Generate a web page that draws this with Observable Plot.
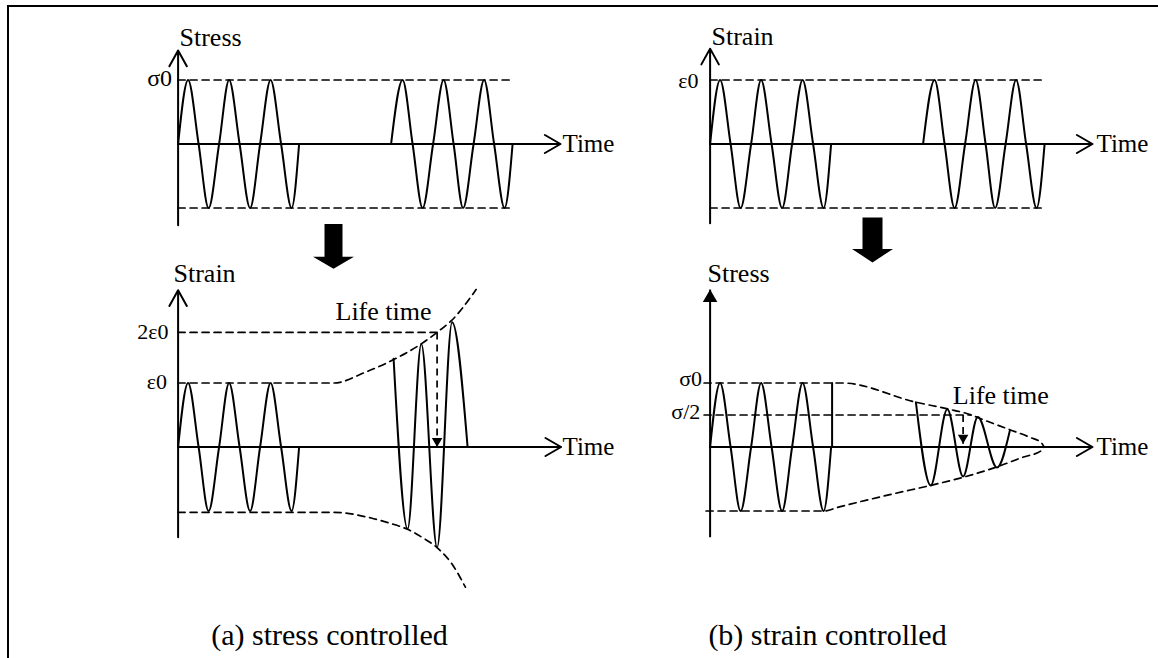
<!DOCTYPE html>
<html><head><meta charset="utf-8">
<script src="https://cdn.jsdelivr.net/npm/d3@7"></script>
<script src="https://cdn.jsdelivr.net/npm/@observablehq/plot@0.6"></script>
<style>
html,body{margin:0;padding:0;background:#fff;overflow:hidden}
#wrap{position:relative;width:1158px;height:658px}
#frame{position:absolute;left:7px;top:5px;width:1300px;height:800px;border-left:2px solid #000;border-top:2px solid #000;pointer-events:none}
</style></head><body><div id="wrap"><div id="frame"></div><div id="chart"></div></div>
<script>
// ---------- data (time in arbitrary units, amplitude in units of σ0 / ε0) ----------
const columns = ["a", "b"];            // (a) stress controlled, (b) strain controlled
const rowKeys = ["load", "resp"];      // applied signal, response

// steady cyclic signal: first block (all panels) and second block (top panels)
const steadyT = [0, 10, 20.5, 30.5, 41, 51, 61.5, 72, 82, 92.5, 103, 113.5, 121];
const steadyA = [0, 1, 0, -1, 0, 1, 0, -1, 0, 1, 0, -1, 0];
const laterT  = [213, 224.5, 234.5, 244.5, 255, 265.5, 275.5, 285, 295.5, 306, 316, 326.5, 334.5];
const laterA  = [0, 1, 0, -1, 0, 1, 0, -1, 0, 1, 0, -1, 0];
const loadLimitT = [0, 334.5];
const loadLimitA = [1, -1];

// (a) response: growing strain
const growthT = [215.5, 229.5, 243.2, 259, 274, 289.5];
const growthA = [1.38, -1.28, 1.61, -1.57, 1.95, 0];
const upperEnvAT = [0, 120, 156, 186, 216, 243, 263, 273, 298];
const upperEnvAA = [1, 1, 1, 1.16, 1.37, 1.61, 1.84, 1.97, 2.46];
const lowerEnvAT = [0, 120, 156, 193, 211.5, 230, 244.8, 259.5, 274.4, 287.3];
const lowerEnvAA = [-1.02, -1.02, -1.02, -1.11, -1.19, -1.29, -1.42, -1.58, -1.84, -2.19];
const lifeA = {level: 1.79, t: 259, tip: 0};

// (b) response: decaying stress
const decayT = [205.8, 220.6, 237.2, 253, 267.7, 286.9, 299.8];
const decayA = [0.70, -0.60, 0.59, -0.46, 0.47, -0.32, 0.26];
const upperEnvBT = [-6, 132, 205.8, 239, 257.4, 275.9, 299.8, 320, 331, 334];
const upperEnvBA = [1, 1, 0.70, 0.59, 0.52, 0.41, 0.27, 0.15, 0.07, 0];
const lowerEnvBT = [-4, 113.7, 128.4, 183.7, 220.6, 253.7, 287, 312.7, 331, 334];
const lowerEnvBA = [-1, -1, -0.94, -0.73, -0.6, -0.47, -0.31, -0.16, -0.06, 0];
const blockEndB = {t: 122, a0: 0, a1: 1};
const lifeB = {level: 0.5, levelEnd: 261, t: 253, tip: 0.05};

// axes per panel
const axisCol  = ["a", "b", "a", "b"];
const axisRow  = ["load", "load", "resp", "resp"];
const axisLow  = [-1.27, -1.24, -1.41, -1.41];
const axisHigh = [1.46, 1.49, 2.45, 2.46];
const axisEnd  = [382.4, 382.4, 383, 382.4];
const axisFilled = [false, false, false, true];
const axisName  = ["Stress", "Strain", "Strain", "Stress"];
const axisNameT = [1.4, 1.4, -4.6, -2.6];
const axisNameA = [1.53, 1.54, 2.575, 2.575];
const timeLabelT = [384.4, 386.4, 384.4, 386.4];

// level labels
const levelText = ["σ0", "ε0", "2ε0", "ε0", "σ0", "σ/2"];
const levelCol  = ["a", "b", "a", "a", "b", "b"];
const levelRow  = ["load", "load", "resp", "resp", "resp", "resp"];
const levelT    = [-6, -11.6, -9.6, -11, -8, -9.8];
const levelA    = [1.03, 0.99, 1.79, 1.01, 1.07, 0.54];
const levelSize = [24, 22, 22, 22, 22, 22];

// "Life time" labels
const lifeLabelCol = ["a", "b"];
const lifeLabelT = [157.4, 242.7];
const lifeLabelA = [1.99, 0.675];

// big transition arrows (between rows)
const bigArrowCol  = ["a", "b"];
const bigArrowT    = [155.4, 162.4];
const bigArrowTop  = [-1.25, -1.15];
const bigArrowBase = [-1.76, -1.64];
const bigArrowTip  = [-1.95, -1.85];
const bigArrowShaft = [9, 10];
const bigArrowHead  = [20.5, 20.5];

// captions
const captions = ["(a) stress controlled", "(b) strain controlled"];
const captionT = [151.4, 117.4];
const captionA = -3.1;

// ---------- build tables ----------
const FONT = "Liberation Serif, 'Times New Roman', serif";
function series(id, col, row, T, A) { return T.map((t, i) => ({id, col, row, t, a: A[i]})); }

const waves = [
  ...series("w1", "a", "load", steadyT, steadyA),
  ...series("w2", "a", "load", laterT, laterA),
  ...series("w3", "b", "load", steadyT, steadyA),
  ...series("w4", "b", "load", laterT, laterA),
  ...series("w5", "a", "resp", steadyT, steadyA),
  ...series("w6", "a", "resp", growthT, growthA),
  ...series("w7", "b", "resp", steadyT, steadyA),
  ...series("w8", "b", "resp", decayT, decayA)
];
const straight = [
  ...series("v1", "b", "resp", [blockEndB.t, blockEndB.t], [blockEndB.a0, blockEndB.a1])
];
const dashed = [];
columns.forEach((c) => loadLimitA.forEach((lv, k) =>
  dashed.push(...series(`l${c}${k}`, c, "load", loadLimitT, [lv, lv]))));
dashed.push(...series("ua", "a", "resp", upperEnvAT, upperEnvAA));
dashed.push(...series("la", "a", "resp", lowerEnvAT, lowerEnvAA));
dashed.push(...series("ub", "b", "resp", upperEnvBT, upperEnvBA));
dashed.push(...series("lb", "b", "resp", lowerEnvBT, lowerEnvBA));
dashed.push(...series("ha", "a", "resp", [0, lifeA.t], [lifeA.level, lifeA.level]));
dashed.push(...series("hb", "b", "resp", [-6, lifeB.levelEnd], [lifeB.level, lifeB.level]));

const lifeLinks = [
  {col: "a", row: "resp", t: lifeA.t, a1: lifeA.level, a2: lifeA.tip},
  {col: "b", row: "resp", t: lifeB.t, a1: lifeB.level, a2: lifeB.tip}
];

const axes = axisCol.map((c, i) => ({col: c, row: axisRow[i], low: axisLow[i], high: axisHigh[i], end: axisEnd[i], filled: axisFilled[i],
  name: axisName[i], nameT: axisNameT[i], nameA: axisNameA[i], timeT: timeLabelT[i]}));

const levels = levelText.map((s, i) => ({text: s, col: levelCol[i], row: levelRow[i], t: levelT[i], a: levelA[i], size: levelSize[i]}));

const bigArrows = [];
bigArrowCol.forEach((c, i) => {
  const x = bigArrowT[i], w = bigArrowShaft[i], h = bigArrowHead[i];
  const pts = [[x - w, bigArrowTop[i]], [x + w, bigArrowTop[i]], [x + w, bigArrowBase[i]], [x + h, bigArrowBase[i]],
               [x, bigArrowTip[i]], [x - h, bigArrowBase[i]], [x - w, bigArrowBase[i]]];
  pts.forEach(([t, a]) => bigArrows.push({id: c, col: c, row: "load", t, a}));
});

const axisHeads = axes.filter((d) => d.filled).map((d) => ({col: d.col, row: d.row, t: 0, a: d.high}));
const lifeHeads = lifeLinks.map((d) => ({col: d.col, row: d.row, t: d.t, a: d.a2}));

const yMax = 1.8359, yMin = 1.8359 - 303 / 64;

const chart = Plot.plot({
  width: 1158, height: 658,
  marginTop: 0, marginRight: 0, marginBottom: 0, marginLeft: 0,
  x: {domain: [-130.6, 401.4], axis: null},
  y: {domain: [yMin, yMax], axis: null},
  fx: {domain: columns, axis: null, paddingInner: 0, paddingOuter: (1158 / 532 - 2) / 2, round: false},
  fy: {domain: rowKeys, axis: null, paddingInner: 0, paddingOuter: (658 / 303 - 2) / 2, round: false},
  style: {background: "white", overflow: "visible"},
  marks: [
    // dashed guides & envelopes
    Plot.line(dashed, {x: "t", y: "a", z: "id", fx: "col", fy: "row", curve: "monotone-x", stroke: "black", strokeWidth: 1.7, strokeDasharray: "7,5"}),
    Plot.link(lifeLinks, {x1: "t", x2: "t", y1: "a1", y2: "a2", fx: "col", fy: "row", stroke: "black", strokeWidth: 1.7, strokeDasharray: "7,5"}),
    // axes with open arrowheads
    Plot.arrow(axes.filter((d) => !d.filled), {x1: 0, x2: 0, y1: "low", y2: "high", fx: "col", fy: "row", stroke: "black", strokeWidth: 2, headLength: 13.5, headAngle: 58}),
    Plot.link(axes.filter((d) => d.filled), {x1: 0, x2: 0, y1: "low", y2: "high", fx: "col", fy: "row", stroke: "black", strokeWidth: 2}),
    Plot.arrow(axes, {x1: 0, x2: "end", y1: 0, y2: 0, fx: "col", fy: "row", stroke: "black", strokeWidth: 2, headLength: 13.5, headAngle: 60}),
    // waveforms
    Plot.line(waves, {x: "t", y: "a", z: "id", fx: "col", fy: "row", curve: "monotone-x", stroke: "black", strokeWidth: 2}),
    Plot.line(straight, {x: "t", y: "a", z: "id", fx: "col", fy: "row", stroke: "black", strokeWidth: 2}),
    // filled arrowheads
    Plot.dot(axisHeads, {x: "t", y: "a", fx: "col", fy: "row", symbol: "triangle", r: 5.4, dy: 8.3, fill: "black", stroke: "none"}),
    Plot.dot(lifeHeads, {x: "t", y: "a", fx: "col", fy: "row", symbol: "triangle", r: 3.9, rotate: 180, dy: -6, fill: "black", stroke: "none"}),
    // big arrows
    Plot.line(bigArrows, {x: "t", y: "a", z: "id", fx: "col", fy: "row", fill: "black", stroke: "none", curve: "linear"}),
    // labels
    Plot.text(axes, {x: "nameT", y: "nameA", text: "name", fx: "col", fy: "row", textAnchor: "start", lineAnchor: "bottom", fontSize: 26, fontFamily: FONT, fill: "black"}),
    Plot.text(axes, {x: "timeT", y: 0, text: () => "Time", fx: "col", fy: "row", textAnchor: "start", lineAnchor: "middle", fontSize: 25, fontFamily: FONT, fill: "black"}),
    ...levels.map((d) => Plot.text([d], {x: "t", y: "a", text: "text", fx: "col", fy: "row", textAnchor: "end", lineAnchor: "middle", fontSize: d.size, fontFamily: FONT, fill: "black"})),
    Plot.text(lifeLabelCol.map((c, i) => ({col: c, row: "resp", t: lifeLabelT[i], a: lifeLabelA[i]})),
      {x: "t", y: "a", text: () => "Life time", fx: "col", fy: "row", textAnchor: "start", lineAnchor: "bottom", fontSize: 26, fontFamily: FONT, fill: "black"}),
    Plot.text(columns.map((c, i) => ({col: c, row: "resp", t: captionT[i], a: captionA, s: captions[i]})),
      {x: "t", y: "a", text: "s", fx: "col", fy: "row", textAnchor: "middle", lineAnchor: "bottom", fontSize: 30, fontFamily: FONT, fill: "black"})
  ]
});
document.getElementById("chart").appendChild(chart);
</script></body></html>
